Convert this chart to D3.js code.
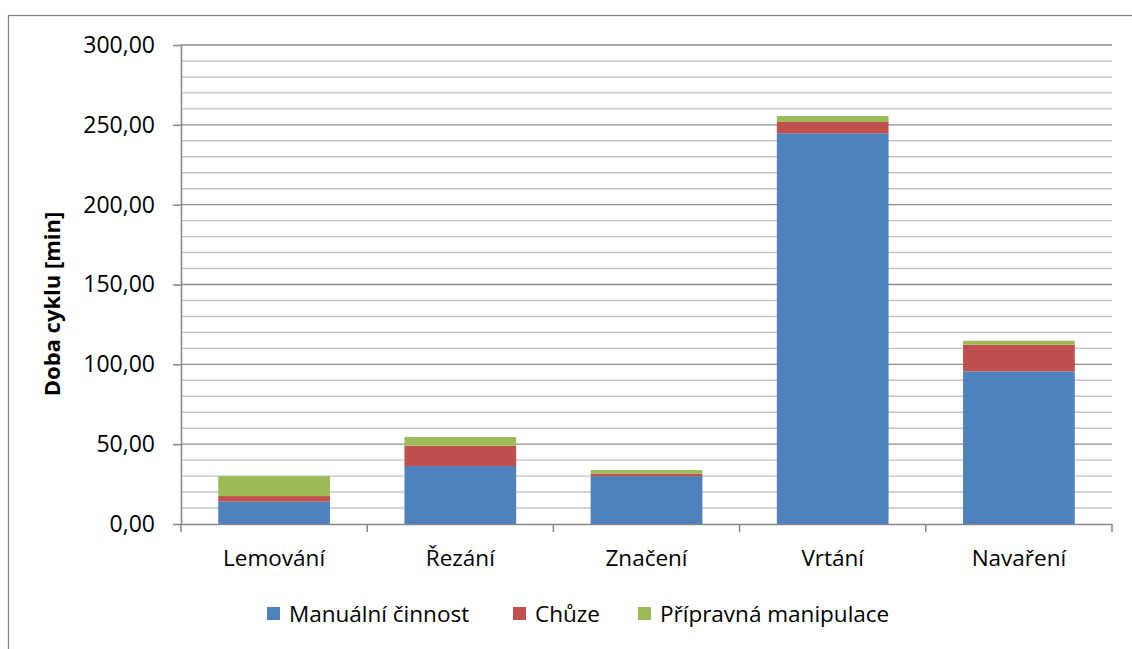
<!DOCTYPE html>
<html>
<head>
<meta charset="utf-8">
<script src="https://cdn.jsdelivr.net/npm/d3@7"></script>
<style>
  body { margin: 0; background: #fff; }
  svg text { font-family: "Open Sans", sans-serif; fill: #000; }
</style>
</head>
<body>
<svg id="chart" width="1132" height="649"></svg>
<script>
// data
let categories = ['Lemování', 'Řezání', 'Značení', 'Vrtání', 'Navaření'];
let seriesNames = ['Manuální činnost', 'Chůze', 'Přípravná manipulace'];
let manualni = [14.0, 36.3, 30.0, 244.7, 95.6];
let chuze = [3.5, 12.7, 1.5, 7.1, 16.7];
let pripravna = [12.5, 5.5, 2.3, 3.7, 2.5];
let colors = ['#4f81bd', '#c0504d', '#9bbb59'];
let yTicks = [0, 50, 100, 150, 200, 250, 300];

let rows = categories.map((c, i) => ({
    cat: c,
    'Manuální činnost': manualni[i],
    'Chůze': chuze[i],
    'Přípravná manipulace': pripravna[i]
}));

let stack = d3.stack().keys(seriesNames)(rows);

let svg = d3.select('#chart');

// outer frame
svg.append('rect')
    .attr('x', 8.5).attr('y', 15.5)
    .attr('width', 1140).attr('height', 660)
    .attr('fill', 'none')
    .attr('stroke', '#868686')
    .attr('stroke-width', 1.3);

let plotL = 181, plotR = 1112, plotT = 45, plotB = 524;

let x = d3.scaleBand().domain(categories).range([plotL, plotR])
    .paddingInner(0.4).paddingOuter(0.2);
let y = d3.scaleLinear().domain([0, 300]).range([plotB, plotT]);

let fmt = v => d3.format('.2f')(v).replace('.', ',');

// gridlines: minor every 10, major every 50
let g = svg.append('g');
g.selectAll('line.minor')
    .data(d3.range(10, 300, 10).filter(v => v % 50 !== 0))
    .enter().append('line')
    .attr('x1', plotL).attr('x2', plotR)
    .attr('y1', d => y(d)).attr('y2', d => y(d))
    .attr('stroke', '#c4c4c4')
    .attr('stroke-width', 1.4);

g.selectAll('line.major')
    .data(yTicks.filter(v => v > 0))
    .enter().append('line')
    .attr('x1', plotL).attr('x2', plotR)
    .attr('y1', d => y(d)).attr('y2', d => y(d))
    .attr('stroke', '#8c8c8c')
    .attr('stroke-width', 1.4);

// bars
svg.append('g').selectAll('g')
    .data(stack)
    .enter().append('g')
    .attr('fill', (d, i) => colors[i])
    .selectAll('rect')
    .data(d => d)
    .enter().append('rect')
    .attr('x', d => x(d.data.cat))
    .attr('width', x.bandwidth())
    .attr('y', d => y(d[1]))
    .attr('height', d => y(d[0]) - y(d[1]));

// y axis
let yAxis = d3.axisLeft(y)
    .tickValues(yTicks)
    .tickFormat(fmt)
    .tickSizeInner(8)
    .tickSizeOuter(0)
    .tickPadding(18);

let $yAxis = svg.append('g')
    .attr('transform', `translate(${plotL}, 0)`)
    .call(yAxis);
$yAxis.select('.domain').attr('stroke', '#868686').attr('stroke-width', 1.5);
$yAxis.selectAll('.tick line').attr('stroke', '#868686').attr('stroke-width', 1.5);
$yAxis.selectAll('.tick text')
    .attr('font-size', 23)
    .attr('font-family', '"Open Sans", sans-serif')
    .attr('fill', '#000');

// x axis
let xAxis = d3.axisBottom(x).tickSize(0).tickPadding(26);
let $xAxis = svg.append('g')
    .attr('transform', `translate(0, ${plotB})`)
    .call(xAxis);
$xAxis.select('.domain').attr('stroke', '#868686').attr('stroke-width', 1.5);
$xAxis.selectAll('.tick text')
    .attr('font-size', 22.5)
    .attr('font-family', '"Open Sans", sans-serif')
    .attr('fill', '#000');

// band boundary ticks
$xAxis.selectAll('line.sep')
    .data(d3.range(categories.length + 1))
    .enter().append('line')
    .attr('x1', i => plotL + i * x.step())
    .attr('x2', i => plotL + i * x.step())
    .attr('y1', 0).attr('y2', 8)
    .attr('stroke', '#868686')
    .attr('stroke-width', 1.5);

// y title
svg.append('text')
    .attr('transform', 'translate(60, 304) rotate(-90)')
    .attr('text-anchor', 'middle')
    .attr('font-size', 22)
    .attr('font-weight', 'bold')
    .text('Doba cyklu [min]');

// legend
let legendX = [267, 513, 638];
let legend = svg.append('g').selectAll('g')
    .data(seriesNames)
    .enter().append('g')
    .attr('transform', (d, i) => `translate(${legendX[i]}, 607)`);

legend.append('rect')
    .attr('width', 13).attr('height', 13)
    .attr('fill', (d, i) => colors[i]);

legend.append('text')
    .attr('x', 22).attr('y', 15)
    .attr('font-size', 22.5)
    .text(d => d);
</script>
</body>
</html>
